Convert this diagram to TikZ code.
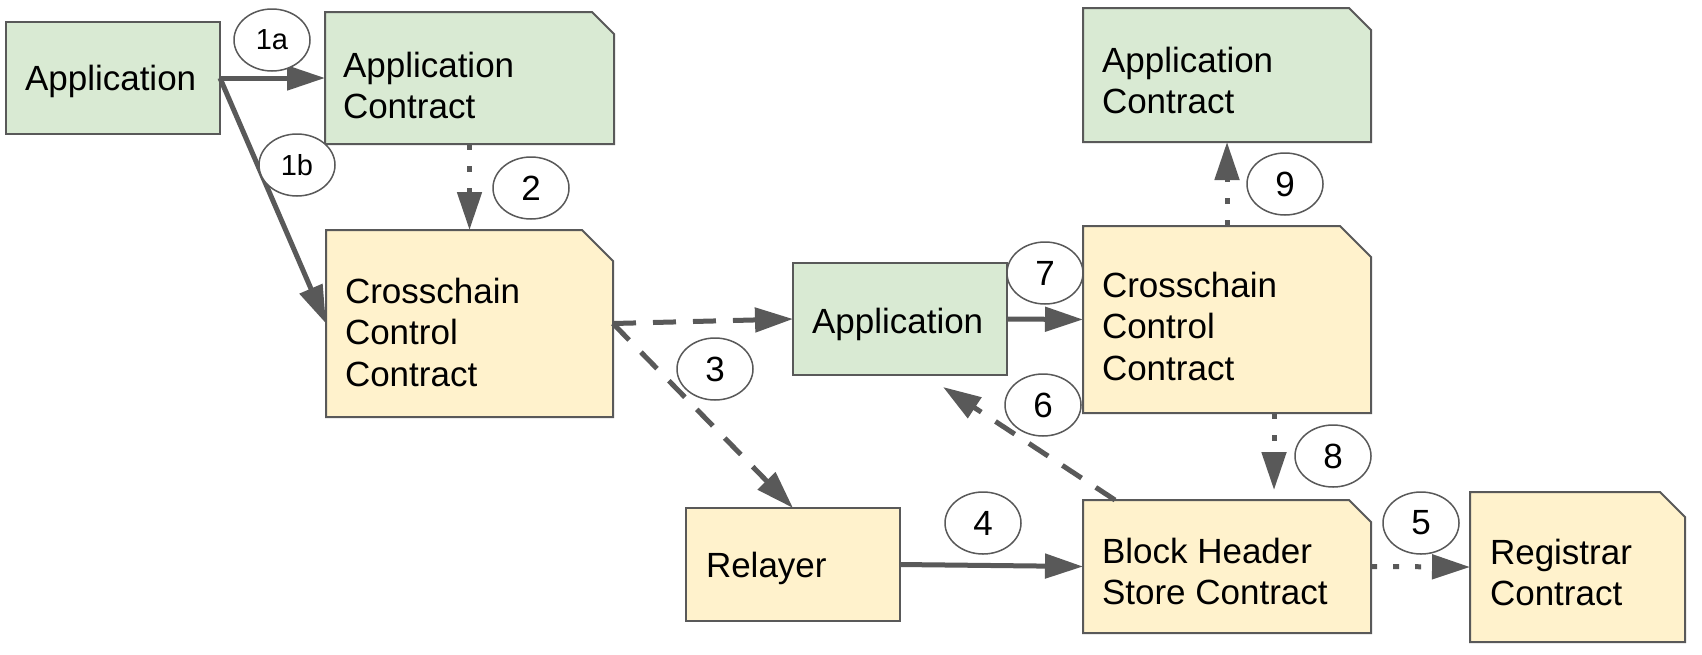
\documentclass[tikz,border=0pt]{standalone}
\usepackage{fontspec}
\setmainfont{Liberation Sans}
\usetikzlibrary{arrows.meta,shapes.geometric}
\definecolor{gfill}{HTML}{D9EAD3}
\definecolor{yfill}{HTML}{FFF2CC}
\definecolor{edgegray}{HTML}{595959}
\newcommand\firstln{\rule{0pt}{26pt}}
\newcommand\dogear[3]{%
  \draw[draw=edgegray, line width=2pt, fill=#3, line join=miter]
    (#1.south west) -- (#1.north west) -- ([xshift=-#2pt]#1.north east)
    -- ([yshift=-#2pt]#1.north east) -- (#1.south east) -- cycle;}
\begin{document}
\begin{tikzpicture}[x=1pt,y=-1pt,
  boxbase/.style={inner sep=0pt, outer sep=0pt, anchor=north west},
  greenbox/.style={boxbase, draw=edgegray, line width=2pt, fill=gfill},
  yellowbox/.style={boxbase, draw=edgegray, line width=2pt, fill=yfill},
  foldbox/.style={boxbase},
  txt/.style={anchor=north west, inner sep=0pt, outer sep=0pt, align=left,
    font=\fontsize{35pt}{41.5pt}\selectfont},
  num/.style={ellipse, draw=edgegray, line width=1.5pt, fill=white,
    minimum width=76pt, minimum height=62pt, inner sep=0pt,
    font=\fontsize{35pt}{40pt}\selectfont},
  smallnum/.style={num, font=\fontsize{29pt}{34pt}\selectfont},
  solidarr/.style={draw=edgegray, line width=5pt,
    -{Triangle[length=38pt,width=24pt]}},
  dasharr/.style={solidarr, dash pattern=on 23pt off 17pt},
  dotarr/.style={solidarr, dash pattern=on 6pt off 16pt},
]
\useasboundingbox[fill=white] (0,0) rectangle (1702,654);

% plain boxes
\node[greenbox, minimum width=214pt, minimum height=112pt] (app1) at (6,22) {};
\node[greenbox, minimum width=214pt, minimum height=112pt] (app2) at (793,263) {};
\node[yellowbox, minimum width=214pt, minimum height=113pt] (rel) at (686,508) {};

% folded-corner boxes
\node[foldbox, minimum width=289pt, minimum height=132pt] (ac1) at (325,12) {};
\dogear{ac1}{22}{gfill}
\node[foldbox, minimum width=287pt, minimum height=187pt] (cc1) at (326,230) {};
\dogear{cc1}{31}{yfill}
\node[foldbox, minimum width=288pt, minimum height=134pt] (ac2) at (1083,8) {};
\dogear{ac2}{22}{gfill}
\node[foldbox, minimum width=288pt, minimum height=187pt] (cc2) at (1083,226) {};
\dogear{cc2}{31}{yfill}
\node[foldbox, minimum width=288pt, minimum height=133pt] (bhs) at (1083,500) {};
\dogear{bhs}{22}{yfill}
\node[foldbox, minimum width=215pt, minimum height=150pt] (reg) at (1470,492) {};
\dogear{reg}{25}{yfill}

% texts
\node[txt] (app1t) at (25,64) {\firstln Application};
\node[txt] (ac1t) at (343,51) {\firstln Application\\Contract};
\node[txt] (cc1t) at (345,277) {\firstln Crosschain\\Control\\Contract};
\node[txt] (app2t) at (812,307) {\firstln Application};
\node[txt] (relt) at (706,551) {\firstln Relayer};
\node[txt] (ac2t) at (1102,46) {\firstln Application\\Contract};
\node[txt] (cc2t) at (1102,271) {\firstln Crosschain\\Control\\Contract};
\node[txt] (bhst) at (1102,537) {\firstln Block Header\\Store Contract};
\node[txt] (regt) at (1490,538) {\firstln Registrar\\Contract};

% connectors
\coordinate (s6) at (1115,500);
\coordinate (e6) at (943,387);
\coordinate (e8) at (1274,490);
\draw[solidarr] (app1.east) -- (ac1.west);
\draw[solidarr] (app1.east) -- (cc1.west);
\draw[dotarr] (ac1.south) -- (cc1.north);
\draw[dasharr] (cc1.east) -- (app2.west);
\draw[dasharr] (cc1.east) -- (rel.north);
\draw[solidarr] (rel.east) -- (bhs.west);
\draw[dotarr] (bhs.east) -- (reg.west);
\draw[dasharr] (s6) -- (e6);
\draw[solidarr] (app2.east) -- (cc2.west);
\draw[dotarr] (e8 |- cc2.south) -- (e8);
\draw[dotarr] (cc2.north) -- (ac2.south);

% step labels
\node[smallnum] (n1a) at (272,40) {1a};
\node[smallnum] (n1b) at (297,165) {1b};
\node[num] (n2) at (531,188) {2};
\node[num] (n3) at (715,369) {3};
\node[num] (n4) at (983,523) {4};
\node[num] (n5) at (1421,523) {5};
\node[num] (n6) at (1043,405) {6};
\node[num] (n7) at (1045,273) {7};
\node[num] (n8) at (1333,456) {8};
\node[num] (n9) at (1285,184) {9};
\end{tikzpicture}
\end{document}
